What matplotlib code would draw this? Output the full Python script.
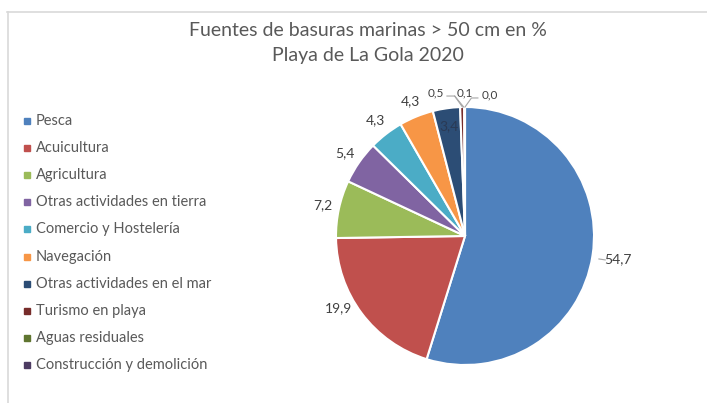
import numpy as np
import matplotlib
matplotlib.use("Agg")
import matplotlib.pyplot as plt
from matplotlib.lines import Line2D
from matplotlib.patches import Rectangle

plt.rcParams['font.family'] = ['Lato', 'DejaVu Sans']

# data
sources = ["Pesca", "Acuicultura", "Agricultura", "Otras actividades en tierra",
           "Comercio y Hostelería", "Navegación", "Otras actividades en el mar",
           "Turismo en playa", "Aguas residuales", "Construcción y demolición"]
shares = [54.7, 19.9, 7.2, 5.4, 4.3, 4.3, 3.4, 0.5, 0.1, 0.0]
label_txt = ["54,7", "19,9", "7,2", "5,4", "4,3", "4,3", "3,4", "0,5", "0,1", "0,0"]
colors = ["#4F81BD", "#C0504D", "#9BBB59", "#8064A2", "#4BACC6",
          "#F79646", "#2C4D75", "#772C2A", "#5F7530", "#4D3B62"]

W, H = 707, 403
fig = plt.figure(figsize=(W / 100, H / 100), dpi=100)

# chart frame (only top and left edges visible in the crop)
grey = "#d9d9d9"
fig.add_artist(Line2D([7 / W, 1], [1 - 12 / H, 1 - 12 / H], color=grey, lw=1.2))
fig.add_artist(Line2D([8 / W, 8 / W], [0, 1 - 12 / H], color=grey, lw=1.2))

fig.text(368 / W, 1 - 30 / H, "Fuentes de basuras marinas > 50 cm en %",
         ha='center', va='center', fontsize=14, color="#595959")
fig.text(368 / W, 1 - 55 / H, "Playa de La Gola 2020",
         ha='center', va='center', fontsize=14, color="#595959")

# pie
cx, cy, r = 465, 236, 129
ax = fig.add_axes([(cx - r) / W, (H - cy - r) / H, 2 * r / W, 2 * r / H])
wedges, _ = ax.pie(shares, colors=colors, startangle=90, counterclock=False,
                   wedgeprops=dict(edgecolor='white', linewidth=1.5))
ax.set_xlim(-1, 1)
ax.set_ylim(-1, 1)
ax.set_aspect('auto')
ax.axis('off')

lab_col = "#404040"
for i, w in enumerate(wedges[:6]):
    mid = np.deg2rad((w.theta1 + w.theta2) / 2)
    d = 1.13
    if i == 0:
        d = 1.2
        ax.plot([1.05 * np.cos(mid), 1.1 * np.cos(mid)],
                [1.05 * np.sin(mid) - 0.02, 1.1 * np.sin(mid) - 0.02],
                color="#a6a6a6", lw=0.8, clip_on=False)
    if i == 1:
        mid = np.deg2rad((w.theta1 + w.theta2) / 2 - 7)
    ax.text(d * np.cos(mid), d * np.sin(mid), label_txt[i], ha='center',
            va='center', fontsize=10, color=lab_col)

# label inside the dark blue slice
w = wedges[6]
mid = np.deg2rad((w.theta1 + w.theta2) / 2)
ax.text(0.86 * np.cos(mid), 0.86 * np.sin(mid), label_txt[6], ha='center',
        va='center', fontsize=10, color="#2a3a55")

# tiny slices with leader lines
top = 1.0
small_pos = [(-0.23, 1.11), (0.0, 1.11), (0.19, 1.09)]
for k, (tx, ty) in zip(range(7, 10), small_pos):
    ax.text(tx, ty, label_txt[k], ha='center', va='center', fontsize=8.5,
            color=lab_col, clip_on=False)
ax.plot([-0.14, -0.08, -0.02], [1.085, 1.085, top], color="#a6a6a6", lw=0.8, clip_on=False)
ax.plot([-0.08, -0.01], [1.085, top], color="#a6a6a6", lw=0.8, clip_on=False)
ax.plot([0.10, 0.05, 0.0], [1.07, 1.07, top], color="#a6a6a6", lw=0.8, clip_on=False)

# legend
for i, (name, c) in enumerate(zip(sources, colors)):
    y = 121 + i * 27.1
    fig.add_artist(Rectangle((24 / W, 1 - (y + 3) / H), 6 / W, 6 / H,
                             transform=fig.transFigure, color=c))
    fig.text(36 / W, 1 - y / H, name, ha='left', va='center', fontsize=10.5,
             color="#595959")

fig.savefig("out.png", dpi=100)
